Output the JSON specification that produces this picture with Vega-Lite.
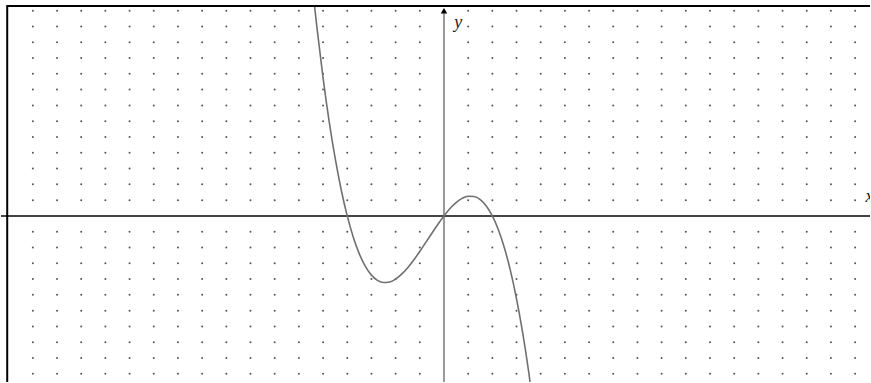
{
  "$schema": "https://vega.github.io/schema/vega-lite/v6.json",
  "width": 871,
  "height": 383,
  "padding": 0,
  "autosize": {"type": "fit", "contains": "padding"},
  "background": "white",
  "config": {"view": {"stroke": null}},
  "datasets": {
    "grid": [
      {"x":-17,"y":13},{"x":-16,"y":13},{"x":-15,"y":13},{"x":-14,"y":13},{"x":-13,"y":13},{"x":-12,"y":13},{"x":-11,"y":13},{"x":-10,"y":13},{"x":-9,"y":13},{"x":-8,"y":13},{"x":-7,"y":13},{"x":-6,"y":13},{"x":-5,"y":13},{"x":-4,"y":13},{"x":-3,"y":13},{"x":-2,"y":13},{"x":-1,"y":13},{"x":1,"y":13},{"x":2,"y":13},{"x":3,"y":13},{"x":4,"y":13},{"x":5,"y":13},{"x":6,"y":13},{"x":7,"y":13},{"x":8,"y":13},{"x":9,"y":13},{"x":10,"y":13},{"x":11,"y":13},{"x":12,"y":13},{"x":13,"y":13},{"x":14,"y":13},{"x":15,"y":13},{"x":16,"y":13},{"x":17,"y":13},
      {"x":-17,"y":12},{"x":-16,"y":12},{"x":-15,"y":12},{"x":-14,"y":12},{"x":-13,"y":12},{"x":-12,"y":12},{"x":-11,"y":12},{"x":-10,"y":12},{"x":-9,"y":12},{"x":-8,"y":12},{"x":-7,"y":12},{"x":-6,"y":12},{"x":-5,"y":12},{"x":-4,"y":12},{"x":-3,"y":12},{"x":-2,"y":12},{"x":-1,"y":12},{"x":1,"y":12},{"x":2,"y":12},{"x":3,"y":12},{"x":4,"y":12},{"x":5,"y":12},{"x":6,"y":12},{"x":7,"y":12},{"x":8,"y":12},{"x":9,"y":12},{"x":10,"y":12},{"x":11,"y":12},{"x":12,"y":12},{"x":13,"y":12},{"x":14,"y":12},{"x":15,"y":12},{"x":16,"y":12},{"x":17,"y":12},
      {"x":-17,"y":11},{"x":-16,"y":11},{"x":-15,"y":11},{"x":-14,"y":11},{"x":-13,"y":11},{"x":-12,"y":11},{"x":-11,"y":11},{"x":-10,"y":11},{"x":-9,"y":11},{"x":-8,"y":11},{"x":-7,"y":11},{"x":-6,"y":11},{"x":-5,"y":11},{"x":-4,"y":11},{"x":-3,"y":11},{"x":-2,"y":11},{"x":-1,"y":11},{"x":1,"y":11},{"x":2,"y":11},{"x":3,"y":11},{"x":4,"y":11},{"x":5,"y":11},{"x":6,"y":11},{"x":7,"y":11},{"x":8,"y":11},{"x":9,"y":11},{"x":10,"y":11},{"x":11,"y":11},{"x":12,"y":11},{"x":13,"y":11},{"x":14,"y":11},{"x":15,"y":11},{"x":16,"y":11},{"x":17,"y":11},
      {"x":-17,"y":10},{"x":-16,"y":10},{"x":-15,"y":10},{"x":-14,"y":10},{"x":-13,"y":10},{"x":-12,"y":10},{"x":-11,"y":10},{"x":-10,"y":10},{"x":-9,"y":10},{"x":-8,"y":10},{"x":-7,"y":10},{"x":-6,"y":10},{"x":-5,"y":10},{"x":-4,"y":10},{"x":-3,"y":10},{"x":-2,"y":10},{"x":-1,"y":10},{"x":1,"y":10},{"x":2,"y":10},{"x":3,"y":10},{"x":4,"y":10},{"x":5,"y":10},{"x":6,"y":10},{"x":7,"y":10},{"x":8,"y":10},{"x":9,"y":10},{"x":10,"y":10},{"x":11,"y":10},{"x":12,"y":10},{"x":13,"y":10},{"x":14,"y":10},{"x":15,"y":10},{"x":16,"y":10},{"x":17,"y":10},
      {"x":-17,"y":9},{"x":-16,"y":9},{"x":-15,"y":9},{"x":-14,"y":9},{"x":-13,"y":9},{"x":-12,"y":9},{"x":-11,"y":9},{"x":-10,"y":9},{"x":-9,"y":9},{"x":-8,"y":9},{"x":-7,"y":9},{"x":-6,"y":9},{"x":-5,"y":9},{"x":-4,"y":9},{"x":-3,"y":9},{"x":-2,"y":9},{"x":-1,"y":9},{"x":1,"y":9},{"x":2,"y":9},{"x":3,"y":9},{"x":4,"y":9},{"x":5,"y":9},{"x":6,"y":9},{"x":7,"y":9},{"x":8,"y":9},{"x":9,"y":9},{"x":10,"y":9},{"x":11,"y":9},{"x":12,"y":9},{"x":13,"y":9},{"x":14,"y":9},{"x":15,"y":9},{"x":16,"y":9},{"x":17,"y":9},
      {"x":-17,"y":8},{"x":-16,"y":8},{"x":-15,"y":8},{"x":-14,"y":8},{"x":-13,"y":8},{"x":-12,"y":8},{"x":-11,"y":8},{"x":-10,"y":8},{"x":-9,"y":8},{"x":-8,"y":8},{"x":-7,"y":8},{"x":-6,"y":8},{"x":-5,"y":8},{"x":-4,"y":8},{"x":-3,"y":8},{"x":-2,"y":8},{"x":-1,"y":8},{"x":1,"y":8},{"x":2,"y":8},{"x":3,"y":8},{"x":4,"y":8},{"x":5,"y":8},{"x":6,"y":8},{"x":7,"y":8},{"x":8,"y":8},{"x":9,"y":8},{"x":10,"y":8},{"x":11,"y":8},{"x":12,"y":8},{"x":13,"y":8},{"x":14,"y":8},{"x":15,"y":8},{"x":16,"y":8},{"x":17,"y":8},
      {"x":-17,"y":7},{"x":-16,"y":7},{"x":-15,"y":7},{"x":-14,"y":7},{"x":-13,"y":7},{"x":-12,"y":7},{"x":-11,"y":7},{"x":-10,"y":7},{"x":-9,"y":7},{"x":-8,"y":7},{"x":-7,"y":7},{"x":-6,"y":7},{"x":-5,"y":7},{"x":-4,"y":7},{"x":-3,"y":7},{"x":-2,"y":7},{"x":-1,"y":7},{"x":1,"y":7},{"x":2,"y":7},{"x":3,"y":7},{"x":4,"y":7},{"x":5,"y":7},{"x":6,"y":7},{"x":7,"y":7},{"x":8,"y":7},{"x":9,"y":7},{"x":10,"y":7},{"x":11,"y":7},{"x":12,"y":7},{"x":13,"y":7},{"x":14,"y":7},{"x":15,"y":7},{"x":16,"y":7},{"x":17,"y":7},
      {"x":-17,"y":6},{"x":-16,"y":6},{"x":-15,"y":6},{"x":-14,"y":6},{"x":-13,"y":6},{"x":-12,"y":6},{"x":-11,"y":6},{"x":-10,"y":6},{"x":-9,"y":6},{"x":-8,"y":6},{"x":-7,"y":6},{"x":-6,"y":6},{"x":-5,"y":6},{"x":-4,"y":6},{"x":-3,"y":6},{"x":-2,"y":6},{"x":-1,"y":6},{"x":1,"y":6},{"x":2,"y":6},{"x":3,"y":6},{"x":4,"y":6},{"x":5,"y":6},{"x":6,"y":6},{"x":7,"y":6},{"x":8,"y":6},{"x":9,"y":6},{"x":10,"y":6},{"x":11,"y":6},{"x":12,"y":6},{"x":13,"y":6},{"x":14,"y":6},{"x":15,"y":6},{"x":16,"y":6},{"x":17,"y":6},
      {"x":-17,"y":5},{"x":-16,"y":5},{"x":-15,"y":5},{"x":-14,"y":5},{"x":-13,"y":5},{"x":-12,"y":5},{"x":-11,"y":5},{"x":-10,"y":5},{"x":-9,"y":5},{"x":-8,"y":5},{"x":-7,"y":5},{"x":-6,"y":5},{"x":-5,"y":5},{"x":-4,"y":5},{"x":-3,"y":5},{"x":-2,"y":5},{"x":-1,"y":5},{"x":1,"y":5},{"x":2,"y":5},{"x":3,"y":5},{"x":4,"y":5},{"x":5,"y":5},{"x":6,"y":5},{"x":7,"y":5},{"x":8,"y":5},{"x":9,"y":5},{"x":10,"y":5},{"x":11,"y":5},{"x":12,"y":5},{"x":13,"y":5},{"x":14,"y":5},{"x":15,"y":5},{"x":16,"y":5},{"x":17,"y":5},
      {"x":-17,"y":4},{"x":-16,"y":4},{"x":-15,"y":4},{"x":-14,"y":4},{"x":-13,"y":4},{"x":-12,"y":4},{"x":-11,"y":4},{"x":-10,"y":4},{"x":-9,"y":4},{"x":-8,"y":4},{"x":-7,"y":4},{"x":-6,"y":4},{"x":-5,"y":4},{"x":-4,"y":4},{"x":-3,"y":4},{"x":-2,"y":4},{"x":-1,"y":4},{"x":1,"y":4},{"x":2,"y":4},{"x":3,"y":4},{"x":4,"y":4},{"x":5,"y":4},{"x":6,"y":4},{"x":7,"y":4},{"x":8,"y":4},{"x":9,"y":4},{"x":10,"y":4},{"x":11,"y":4},{"x":12,"y":4},{"x":13,"y":4},{"x":14,"y":4},{"x":15,"y":4},{"x":16,"y":4},{"x":17,"y":4},
      {"x":-17,"y":3},{"x":-16,"y":3},{"x":-15,"y":3},{"x":-14,"y":3},{"x":-13,"y":3},{"x":-12,"y":3},{"x":-11,"y":3},{"x":-10,"y":3},{"x":-9,"y":3},{"x":-8,"y":3},{"x":-7,"y":3},{"x":-6,"y":3},{"x":-5,"y":3},{"x":-4,"y":3},{"x":-3,"y":3},{"x":-2,"y":3},{"x":-1,"y":3},{"x":1,"y":3},{"x":2,"y":3},{"x":3,"y":3},{"x":4,"y":3},{"x":5,"y":3},{"x":6,"y":3},{"x":7,"y":3},{"x":8,"y":3},{"x":9,"y":3},{"x":10,"y":3},{"x":11,"y":3},{"x":12,"y":3},{"x":13,"y":3},{"x":14,"y":3},{"x":15,"y":3},{"x":16,"y":3},{"x":17,"y":3},
      {"x":-17,"y":2},{"x":-16,"y":2},{"x":-15,"y":2},{"x":-14,"y":2},{"x":-13,"y":2},{"x":-12,"y":2},{"x":-11,"y":2},{"x":-10,"y":2},{"x":-9,"y":2},{"x":-8,"y":2},{"x":-7,"y":2},{"x":-6,"y":2},{"x":-5,"y":2},{"x":-4,"y":2},{"x":-3,"y":2},{"x":-2,"y":2},{"x":-1,"y":2},{"x":1,"y":2},{"x":2,"y":2},{"x":3,"y":2},{"x":4,"y":2},{"x":5,"y":2},{"x":6,"y":2},{"x":7,"y":2},{"x":8,"y":2},{"x":9,"y":2},{"x":10,"y":2},{"x":11,"y":2},{"x":12,"y":2},{"x":13,"y":2},{"x":14,"y":2},{"x":15,"y":2},{"x":16,"y":2},{"x":17,"y":2},
      {"x":-17,"y":1},{"x":-16,"y":1},{"x":-15,"y":1},{"x":-14,"y":1},{"x":-13,"y":1},{"x":-12,"y":1},{"x":-11,"y":1},{"x":-10,"y":1},{"x":-9,"y":1},{"x":-8,"y":1},{"x":-7,"y":1},{"x":-6,"y":1},{"x":-5,"y":1},{"x":-4,"y":1},{"x":-3,"y":1},{"x":-2,"y":1},{"x":-1,"y":1},{"x":1,"y":1},{"x":2,"y":1},{"x":3,"y":1},{"x":4,"y":1},{"x":5,"y":1},{"x":6,"y":1},{"x":7,"y":1},{"x":8,"y":1},{"x":9,"y":1},{"x":10,"y":1},{"x":11,"y":1},{"x":12,"y":1},{"x":13,"y":1},{"x":14,"y":1},{"x":15,"y":1},{"x":16,"y":1},{"x":17,"y":1},
      {"x":-17,"y":-1},{"x":-16,"y":-1},{"x":-15,"y":-1},{"x":-14,"y":-1},{"x":-13,"y":-1},{"x":-12,"y":-1},{"x":-11,"y":-1},{"x":-10,"y":-1},{"x":-9,"y":-1},{"x":-8,"y":-1},{"x":-7,"y":-1},{"x":-6,"y":-1},{"x":-5,"y":-1},{"x":-4,"y":-1},{"x":-3,"y":-1},{"x":-2,"y":-1},{"x":-1,"y":-1},{"x":1,"y":-1},{"x":2,"y":-1},{"x":3,"y":-1},{"x":4,"y":-1},{"x":5,"y":-1},{"x":6,"y":-1},{"x":7,"y":-1},{"x":8,"y":-1},{"x":9,"y":-1},{"x":10,"y":-1},{"x":11,"y":-1},{"x":12,"y":-1},{"x":13,"y":-1},{"x":14,"y":-1},{"x":15,"y":-1},{"x":16,"y":-1},{"x":17,"y":-1},
      {"x":-17,"y":-2},{"x":-16,"y":-2},{"x":-15,"y":-2},{"x":-14,"y":-2},{"x":-13,"y":-2},{"x":-12,"y":-2},{"x":-11,"y":-2},{"x":-10,"y":-2},{"x":-9,"y":-2},{"x":-8,"y":-2},{"x":-7,"y":-2},{"x":-6,"y":-2},{"x":-5,"y":-2},{"x":-4,"y":-2},{"x":-3,"y":-2},{"x":-2,"y":-2},{"x":-1,"y":-2},{"x":1,"y":-2},{"x":2,"y":-2},{"x":3,"y":-2},{"x":4,"y":-2},{"x":5,"y":-2},{"x":6,"y":-2},{"x":7,"y":-2},{"x":8,"y":-2},{"x":9,"y":-2},{"x":10,"y":-2},{"x":11,"y":-2},{"x":12,"y":-2},{"x":13,"y":-2},{"x":14,"y":-2},{"x":15,"y":-2},{"x":16,"y":-2},{"x":17,"y":-2},
      {"x":-17,"y":-3},{"x":-16,"y":-3},{"x":-15,"y":-3},{"x":-14,"y":-3},{"x":-13,"y":-3},{"x":-12,"y":-3},{"x":-11,"y":-3},{"x":-10,"y":-3},{"x":-9,"y":-3},{"x":-8,"y":-3},{"x":-7,"y":-3},{"x":-6,"y":-3},{"x":-5,"y":-3},{"x":-4,"y":-3},{"x":-3,"y":-3},{"x":-2,"y":-3},{"x":-1,"y":-3},{"x":1,"y":-3},{"x":2,"y":-3},{"x":3,"y":-3},{"x":4,"y":-3},{"x":5,"y":-3},{"x":6,"y":-3},{"x":7,"y":-3},{"x":8,"y":-3},{"x":9,"y":-3},{"x":10,"y":-3},{"x":11,"y":-3},{"x":12,"y":-3},{"x":13,"y":-3},{"x":14,"y":-3},{"x":15,"y":-3},{"x":16,"y":-3},{"x":17,"y":-3},
      {"x":-17,"y":-4},{"x":-16,"y":-4},{"x":-15,"y":-4},{"x":-14,"y":-4},{"x":-13,"y":-4},{"x":-12,"y":-4},{"x":-11,"y":-4},{"x":-10,"y":-4},{"x":-9,"y":-4},{"x":-8,"y":-4},{"x":-7,"y":-4},{"x":-6,"y":-4},{"x":-5,"y":-4},{"x":-4,"y":-4},{"x":-3,"y":-4},{"x":-2,"y":-4},{"x":-1,"y":-4},{"x":1,"y":-4},{"x":2,"y":-4},{"x":3,"y":-4},{"x":4,"y":-4},{"x":5,"y":-4},{"x":6,"y":-4},{"x":7,"y":-4},{"x":8,"y":-4},{"x":9,"y":-4},{"x":10,"y":-4},{"x":11,"y":-4},{"x":12,"y":-4},{"x":13,"y":-4},{"x":14,"y":-4},{"x":15,"y":-4},{"x":16,"y":-4},{"x":17,"y":-4},
      {"x":-17,"y":-5},{"x":-16,"y":-5},{"x":-15,"y":-5},{"x":-14,"y":-5},{"x":-13,"y":-5},{"x":-12,"y":-5},{"x":-11,"y":-5},{"x":-10,"y":-5},{"x":-9,"y":-5},{"x":-8,"y":-5},{"x":-7,"y":-5},{"x":-6,"y":-5},{"x":-5,"y":-5},{"x":-4,"y":-5},{"x":-3,"y":-5},{"x":-2,"y":-5},{"x":-1,"y":-5},{"x":1,"y":-5},{"x":2,"y":-5},{"x":3,"y":-5},{"x":4,"y":-5},{"x":5,"y":-5},{"x":6,"y":-5},{"x":7,"y":-5},{"x":8,"y":-5},{"x":9,"y":-5},{"x":10,"y":-5},{"x":11,"y":-5},{"x":12,"y":-5},{"x":13,"y":-5},{"x":14,"y":-5},{"x":15,"y":-5},{"x":16,"y":-5},{"x":17,"y":-5},
      {"x":-17,"y":-6},{"x":-16,"y":-6},{"x":-15,"y":-6},{"x":-14,"y":-6},{"x":-13,"y":-6},{"x":-12,"y":-6},{"x":-11,"y":-6},{"x":-10,"y":-6},{"x":-9,"y":-6},{"x":-8,"y":-6},{"x":-7,"y":-6},{"x":-6,"y":-6},{"x":-5,"y":-6},{"x":-4,"y":-6},{"x":-3,"y":-6},{"x":-2,"y":-6},{"x":-1,"y":-6},{"x":1,"y":-6},{"x":2,"y":-6},{"x":3,"y":-6},{"x":4,"y":-6},{"x":5,"y":-6},{"x":6,"y":-6},{"x":7,"y":-6},{"x":8,"y":-6},{"x":9,"y":-6},{"x":10,"y":-6},{"x":11,"y":-6},{"x":12,"y":-6},{"x":13,"y":-6},{"x":14,"y":-6},{"x":15,"y":-6},{"x":16,"y":-6},{"x":17,"y":-6},
      {"x":-17,"y":-7},{"x":-16,"y":-7},{"x":-15,"y":-7},{"x":-14,"y":-7},{"x":-13,"y":-7},{"x":-12,"y":-7},{"x":-11,"y":-7},{"x":-10,"y":-7},{"x":-9,"y":-7},{"x":-8,"y":-7},{"x":-7,"y":-7},{"x":-6,"y":-7},{"x":-5,"y":-7},{"x":-4,"y":-7},{"x":-3,"y":-7},{"x":-2,"y":-7},{"x":-1,"y":-7},{"x":1,"y":-7},{"x":2,"y":-7},{"x":3,"y":-7},{"x":4,"y":-7},{"x":5,"y":-7},{"x":6,"y":-7},{"x":7,"y":-7},{"x":8,"y":-7},{"x":9,"y":-7},{"x":10,"y":-7},{"x":11,"y":-7},{"x":12,"y":-7},{"x":13,"y":-7},{"x":14,"y":-7},{"x":15,"y":-7},{"x":16,"y":-7},{"x":17,"y":-7},
      {"x":-17,"y":-8},{"x":-16,"y":-8},{"x":-15,"y":-8},{"x":-14,"y":-8},{"x":-13,"y":-8},{"x":-12,"y":-8},{"x":-11,"y":-8},{"x":-10,"y":-8},{"x":-9,"y":-8},{"x":-8,"y":-8},{"x":-7,"y":-8},{"x":-6,"y":-8},{"x":-5,"y":-8},{"x":-4,"y":-8},{"x":-3,"y":-8},{"x":-2,"y":-8},{"x":-1,"y":-8},{"x":1,"y":-8},{"x":2,"y":-8},{"x":3,"y":-8},{"x":4,"y":-8},{"x":5,"y":-8},{"x":6,"y":-8},{"x":7,"y":-8},{"x":8,"y":-8},{"x":9,"y":-8},{"x":10,"y":-8},{"x":11,"y":-8},{"x":12,"y":-8},{"x":13,"y":-8},{"x":14,"y":-8},{"x":15,"y":-8},{"x":16,"y":-8},{"x":17,"y":-8},
      {"x":-17,"y":-9},{"x":-16,"y":-9},{"x":-15,"y":-9},{"x":-14,"y":-9},{"x":-13,"y":-9},{"x":-12,"y":-9},{"x":-11,"y":-9},{"x":-10,"y":-9},{"x":-9,"y":-9},{"x":-8,"y":-9},{"x":-7,"y":-9},{"x":-6,"y":-9},{"x":-5,"y":-9},{"x":-4,"y":-9},{"x":-3,"y":-9},{"x":-2,"y":-9},{"x":-1,"y":-9},{"x":1,"y":-9},{"x":2,"y":-9},{"x":3,"y":-9},{"x":4,"y":-9},{"x":5,"y":-9},{"x":6,"y":-9},{"x":7,"y":-9},{"x":8,"y":-9},{"x":9,"y":-9},{"x":10,"y":-9},{"x":11,"y":-9},{"x":12,"y":-9},{"x":13,"y":-9},{"x":14,"y":-9},{"x":15,"y":-9},{"x":16,"y":-9},{"x":17,"y":-9},
      {"x":-17,"y":-10},{"x":-16,"y":-10},{"x":-15,"y":-10},{"x":-14,"y":-10},{"x":-13,"y":-10},{"x":-12,"y":-10},{"x":-11,"y":-10},{"x":-10,"y":-10},{"x":-9,"y":-10},{"x":-8,"y":-10},{"x":-7,"y":-10},{"x":-6,"y":-10},{"x":-5,"y":-10},{"x":-4,"y":-10},{"x":-3,"y":-10},{"x":-2,"y":-10},{"x":-1,"y":-10},{"x":1,"y":-10},{"x":2,"y":-10},{"x":3,"y":-10},{"x":4,"y":-10},{"x":5,"y":-10},{"x":6,"y":-10},{"x":7,"y":-10},{"x":8,"y":-10},{"x":9,"y":-10},{"x":10,"y":-10},{"x":11,"y":-10},{"x":12,"y":-10},{"x":13,"y":-10},{"x":14,"y":-10},{"x":15,"y":-10},{"x":16,"y":-10},{"x":17,"y":-10}
    ],
    "curve": [
      {"x":-5.35,"y":13.271},{"x":-5.25,"y":11.895},{"x":-5,"y":8.75},{"x":-4.75,"y":6.012},{"x":-4.5,"y":3.656},{"x":-4.25,"y":1.66},{"x":-4,"y":0},{"x":-3.75,"y":-1.348},{"x":-3.5,"y":-2.406},{"x":-3.25,"y":-3.199},{"x":-3,"y":-3.75},{"x":-2.75,"y":-4.082},{"x":-2.5,"y":-4.219},{"x":-2.25,"y":-4.184},{"x":-2,"y":-4},{"x":-1.75,"y":-3.691},{"x":-1.5,"y":-3.281},{"x":-1.25,"y":-2.793},{"x":-1,"y":-2.25},{"x":-0.75,"y":-1.676},{"x":-0.5,"y":-1.094},{"x":-0.25,"y":-0.527},{"x":0,"y":0},{"x":0.25,"y":0.465},{"x":0.5,"y":0.844},{"x":0.75,"y":1.113},{"x":1,"y":1.25},{"x":1.25,"y":1.23},{"x":1.5,"y":1.031},{"x":1.75,"y":0.629},{"x":2,"y":0},{"x":2.25,"y":-0.879},{"x":2.5,"y":-2.031},{"x":2.75,"y":-3.48},{"x":3,"y":-5.25},{"x":3.25,"y":-7.363},{"x":3.5,"y":-9.844},{"x":3.75,"y":-12.715}
    ],
    "labels": [
      {"x":0.42,"y":12.25,"t":"y"},
      {"x":17.43,"y":1.2,"t":"x"}
    ]
  },
  "layer": [
    {
      "data": {"name": "grid"},
      "mark": {"type": "circle", "size": 4, "color": "#555555", "opacity": 1},
      "encoding": {
        "x": {"field": "x", "type": "quantitative", "scale": {"domain": [-18.317, 17.616], "nice": false, "zero": false}, "axis": null},
        "y": {"field": "y", "type": "quantitative", "scale": {"domain": [-10.52, 13.677], "nice": false, "zero": false}, "axis": null}
      }
    },
    {
      "data": {"values": [{}]},
      "mark": {"type": "rule", "color": "#9a9a9a", "strokeWidth": 2, "clip": true},
      "encoding": {
        "x": {"datum": 0, "type": "quantitative", "scale": {"domain": [-18.317, 17.616], "nice": false, "zero": false}},
        "y": {"datum": -11, "type": "quantitative", "scale": {"domain": [-10.52, 13.677], "nice": false, "zero": false}},
        "y2": {"datum": 12.9}
      }
    },
    {
      "data": {"values": [{}]},
      "mark": {"type": "rule", "color": "#444444", "strokeWidth": 2},
      "encoding": {
        "y": {"datum": 0, "type": "quantitative", "scale": {"domain": [-10.52, 13.677], "nice": false, "zero": false}}
      }
    },
    {
      "data": {"name": "curve"},
      "mark": {"type": "line", "color": "#707070", "strokeWidth": 1.6, "interpolate": "monotone", "clip": true},
      "encoding": {
        "x": {"field": "x", "type": "quantitative", "scale": {"domain": [-18.317, 17.616], "nice": false, "zero": false}},
        "y": {"field": "y", "type": "quantitative", "scale": {"domain": [-10.52, 13.677], "nice": false, "zero": false}}
      }
    },
    {
      "data": {"values": [{}]},
      "mark": {"type": "point", "shape": "triangle-up", "filled": true, "color": "#000000", "opacity": 1, "size": 42},
      "encoding": {
        "x": {"datum": 0, "type": "quantitative", "scale": {"domain": [-18.317, 17.616], "nice": false, "zero": false}},
        "y": {"datum": 13.0, "type": "quantitative", "scale": {"domain": [-10.52, 13.677], "nice": false, "zero": false}}
      }
    },
    {
      "data": {"values": [{}]},
      "mark": {"type": "rule", "color": "#000000", "strokeWidth": 2},
      "encoding": {
        "x": {"datum": -18.06, "type": "quantitative", "scale": {"domain": [-18.317, 17.616], "nice": false, "zero": false}},
        "x2": {"datum": 17.616},
        "y": {"datum": 13.3, "type": "quantitative", "scale": {"domain": [-10.52, 13.677], "nice": false, "zero": false}}
      }
    },
    {
      "data": {"values": [{}]},
      "mark": {"type": "rule", "color": "#000000", "strokeWidth": 2},
      "encoding": {
        "x": {"datum": -18.06, "type": "quantitative", "scale": {"domain": [-18.317, 17.616], "nice": false, "zero": false}},
        "y": {"datum": -10.52, "type": "quantitative", "scale": {"domain": [-10.52, 13.677], "nice": false, "zero": false}},
        "y2": {"datum": 13.36}
      }
    },
    {
      "data": {"name": "labels"},
      "mark": {"type": "text", "font": "Liberation Serif", "fontStyle": "italic", "fontSize": 18, "color": "#222222", "align": "left", "baseline": "middle", "clip": true},
      "encoding": {
        "x": {"field": "x", "type": "quantitative", "scale": {"domain": [-18.317, 17.616], "nice": false, "zero": false}},
        "y": {"field": "y", "type": "quantitative", "scale": {"domain": [-10.52, 13.677], "nice": false, "zero": false}},
        "text": {"field": "t"}
      }
    }
  ]
}
